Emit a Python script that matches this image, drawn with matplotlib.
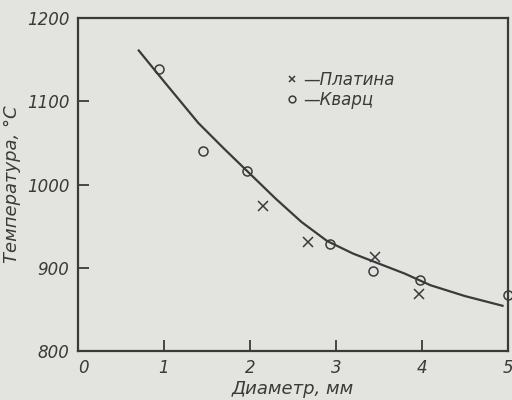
import matplotlib
matplotlib.use("Agg")
import matplotlib.pyplot as plt

# smooth curve
curve_diam = [0.70, 1.0, 1.4, 1.7, 2.0, 2.3, 2.6, 2.9, 3.2, 3.5, 3.8, 4.1, 4.5, 4.95]
curve_temp = [1162, 1124, 1074, 1043, 1013, 983, 955, 932, 917, 905, 893, 879, 866, 854]

# Кварц (circles)
quartz_diam = [0.94, 1.45, 1.97, 2.93, 3.43, 3.98, 5.0]
quartz_temp = [1139, 1040, 1016, 929, 896, 885, 867]

# Платина (crosses)
plat_diam = [2.15, 2.68, 3.45, 3.97]
plat_temp = [974, 931, 913, 868]

xticks = [0, 1, 2, 3, 4, 5]
yticks = [800, 900, 1000, 1100, 1200]

paper = "#e3e3df"
ink = "#3a3a3a"

fig = plt.figure(figsize=(5.12, 4.0), dpi=100, facecolor=paper)
ax = fig.add_axes([0.152, 0.1225, 0.84, 0.8325], facecolor=paper)

ax.plot(curve_diam, curve_temp, color=ink, lw=1.6, solid_capstyle="butt")
pl, = ax.plot(plat_diam, plat_temp, "x", color=ink, ms=6.5, mew=1.1, ls="none", clip_on=False)
qz, = ax.plot(quartz_diam, quartz_temp, "o", color=ink, ms=6.5, mew=1.1, mfc="none",
              ls="none", clip_on=False)

ax.set_xlim(0, 5)
ax.set_ylim(800, 1200)
ax.set_xticks(xticks)
ax.set_yticks(yticks)
ax.set_xticklabels([str(t) for t in xticks], fontsize=12, style="italic", color=ink)
ax.set_yticklabels([str(t) for t in yticks], fontsize=12, style="italic", color=ink)
ax.tick_params(which="major", length=0, pad=6)
# inner tick marks only, no marks at the corners
ax.xaxis.remove_overlapping_locs = False
ax.yaxis.remove_overlapping_locs = False
ax.set_xticks(xticks[1:-1], minor=True)
ax.set_yticks(yticks[1:-1], minor=True)
ax.tick_params(which="minor", direction="in", length=8, width=1.3, color=ink)
ax.get_xticklabels()[0].set_horizontalalignment("left")

for s in ax.spines.values():
    s.set_color(ink)
    s.set_linewidth(1.6)

ax.set_xlabel("Диаметр, мм", fontsize=13, style="italic", color=ink, labelpad=2)
ax.set_ylabel("Температура, °С", fontsize=13, style="italic", color=ink, labelpad=4)

ax.legend([pl, qz], ["—Платина", "—Кварц"], loc="upper left", bbox_to_anchor=(0.45, 0.885),
          frameon=False, handlelength=0.7, handletextpad=0.3, labelspacing=0.1,
          markerscale=0.75, prop={"size": 12, "style": "italic"}, labelcolor=ink)

fig.savefig("out.png", dpi=100, facecolor=paper)
